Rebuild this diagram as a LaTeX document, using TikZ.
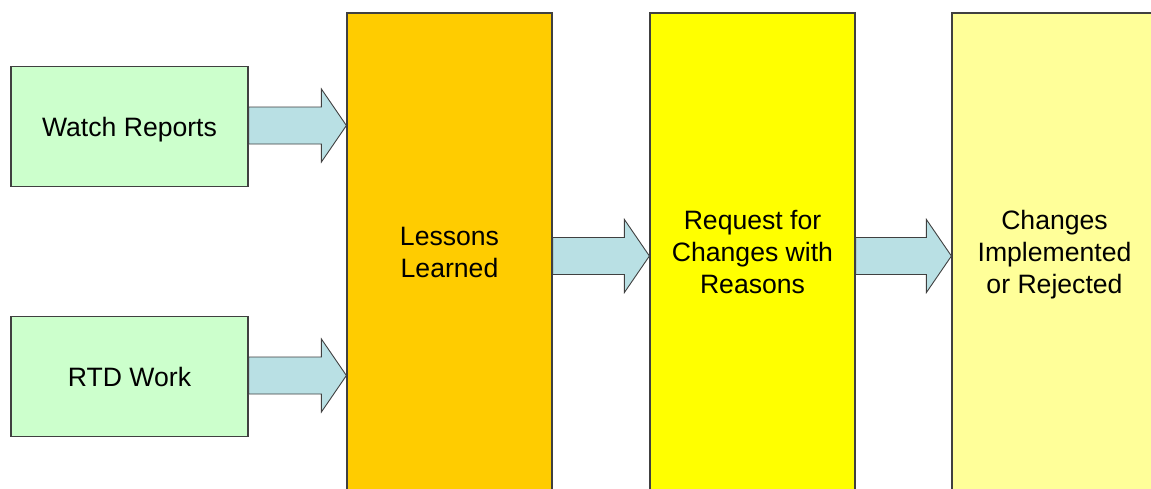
\documentclass[tikz,border=0pt]{standalone}
\usepackage{fontspec}
\setmainfont{Liberation Sans}
\usetikzlibrary{calc}
\definecolor{greenbox}{HTML}{CCFFCC}
\definecolor{orangebox}{HTML}{FFCC00}
\definecolor{yellowbox}{HTML}{FFFF00}
\definecolor{paleyellow}{HTML}{FFFF99}
\definecolor{arrowfill}{HTML}{B9E0E4}
\definecolor{edge}{HTML}{404040}
\tikzset{
  every node/.style={font=\fontsize{26.6}{32}\selectfont, align=center, inner sep=0pt},
  srcbox/.style={draw=edge, line width=1.2pt, fill=greenbox, minimum width=237pt, minimum height=120pt, text depth=0pt},
  tallbox/.style={draw=edge, line width=1.2pt, minimum width=205pt, minimum height=478pt},
  barrow/.style={draw=edge, line width=0.9pt, fill=arrowfill, line join=miter},
}
\newcommand\blockarrow[2]{%
  \draw[barrow] let \p1=(#1), \p2=(#2) in
    (\x1,\y2+18.5pt) -- (\x2-25pt,\y2+18.5pt) -- (\x2-25pt,\y2+36.5pt) -- (\x2,\y2)
    -- (\x2-25pt,\y2-36.5pt) -- (\x2-25pt,\y2-18.5pt) -- (\x1,\y2-18.5pt) -- cycle;}
\begin{document}
\begin{tikzpicture}[x=1pt,y=-1pt]
\useasboundingbox (0,0) rectangle (1151,488);
\clip (0,0) rectangle (1151,488);
\fill[white] (0,0) rectangle (1151,488);
\node[srcbox] (wr) at (129.5,126.5) {Watch Reports};
\node[srcbox] (rtd) at (129.5,376.5) {RTD Work};
\node[tallbox, fill=orangebox] (ll) at (449.5,252) {Lessons\\Learned};
\node[tallbox, fill=yellowbox] (rq) at (752.5,252) {Request for\\Changes with\\Reasons};
\node[tallbox, fill=paleyellow, text depth=0pt] (ch) at (1054.5,252) {Changes\\Implemented\\or Rejected};
\coordinate (a1) at ($(wr.east)+(0,-1)$);
\coordinate (a2) at ($(rtd.east)+(0,-1)$);
\coordinate (a3) at ($(ll.east)+(0,4)$);
\coordinate (a4) at ($(rq.east)+(0,4)$);
\blockarrow{wr.east}{a1 -| ll.west}
\blockarrow{rtd.east}{a2 -| ll.west}
\blockarrow{ll.east}{a3 -| rq.west}
\blockarrow{rq.east}{a4 -| ch.west}
\end{tikzpicture}
\end{document}
